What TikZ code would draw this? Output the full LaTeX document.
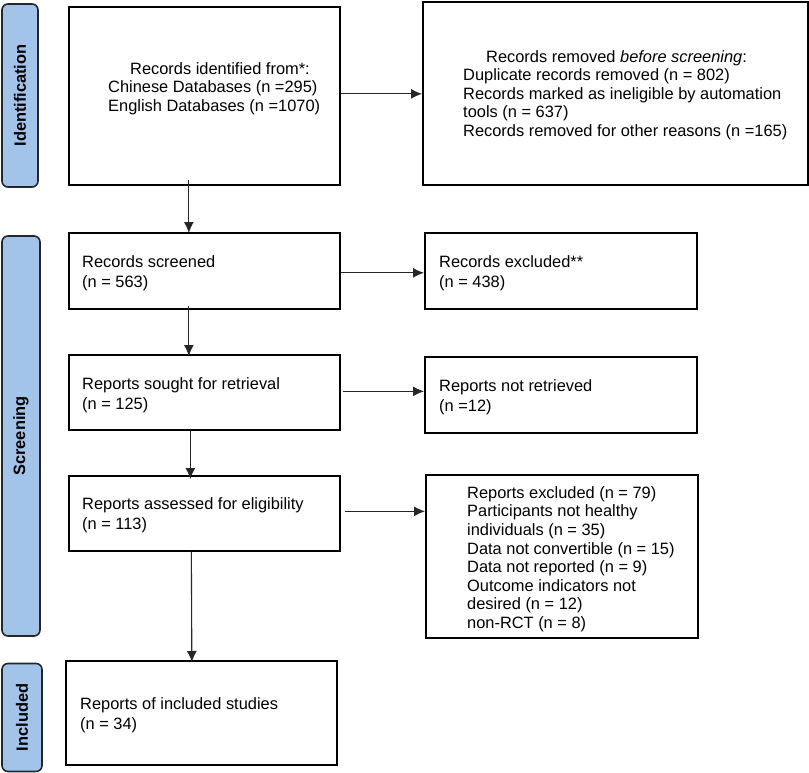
\documentclass[tikz,border=0pt]{standalone}
\usepackage{fontspec}
\setmainfont{Liberation Sans}
\usetikzlibrary{arrows.meta}
\definecolor{stageblue}{RGB}{163,196,234}
\newcommand{\fstrut}{\rule{0pt}{13pt}}
\begin{document}
\begin{tikzpicture}[x=1pt,y=-1pt,
  box/.style={draw=black, line width=1.7pt, anchor=north west, inner sep=0pt},
  stage/.style={draw=black!85, line width=1.6pt, fill=stageblue, rounded corners=6pt, rotate=90, inner sep=0pt,
    font=\fontsize{16.4}{18.6}\selectfont\bfseries},
  txt/.style={anchor=north west, inner sep=0pt, align=left, font=\fontsize{16.4}{18.6}\selectfont},
  txtw/.style={anchor=north west, inner sep=0pt, align=left, font=\fontsize{16.4}{20}\selectfont},
  arr/.style={draw=black!85, line width=1.1pt, -{Latex[length=11pt,width=10pt]}}
]
\useasboundingbox (0,0) rectangle (809,773);

% stage labels
\node[stage, minimum width=183pt, minimum height=36pt] (sid) at (20,95.5) {Identification};
\node[stage, minimum width=400pt, minimum height=38pt] (ssc) at (21,436) {Screening};
\node[stage, minimum width=108pt, minimum height=40pt] (sin) at (22,717.5) {Included};

% boxes
\node[box, minimum width=271pt, minimum height=178pt] (b1) at (68,6) {};
\node[box, minimum width=385pt, minimum height=183pt] (b2) at (422,1) {};
\node[box, minimum width=271pt, minimum height=76pt] (scr) at (68,232) {};
\node[box, minimum width=272pt, minimum height=76pt] (exc1) at (424,232) {};
\node[box, minimum width=271pt, minimum height=75pt] (sou) at (68,354) {};
\node[box, minimum width=272pt, minimum height=76pt] (nret) at (424,356) {};
\node[box, minimum width=271pt, minimum height=75pt] (ass) at (68,475) {};
\node[box, minimum width=272pt, minimum height=163pt] (exc2) at (425,474) {};
\node[box, minimum width=271pt, minimum height=104pt] (inc) at (65,660) {};

% texts
\node[txt] (t1) at (108,61) {\hspace*{22pt}\fstrut Records identified from*:\\Chinese Databases (n =295)\\English Databases (n =1070)};
\node[txt] (t2) at (463,49) {\hspace*{23pt}\fstrut Records removed \textit{before screening}:\\Duplicate records removed (n = 802)\\Records marked as ineligible by automation\\tools (n = 637)\\Records removed for other reasons (n =165)};
\node[txtw] (tscr) at (82,254) {\fstrut Records screened\\(n = 563)};
\node[txtw] (texc1) at (439,254) {\fstrut Records excluded**\\(n = 438)};
\node[txtw] (tsou) at (82,376) {\fstrut Reports sought for retrieval\\(n = 125)};
\node[txtw] (tnret) at (439,378) {\fstrut Reports not retrieved\\(n =12)};
\node[txtw] (tass) at (82,496) {\fstrut Reports assessed for eligibility\\(n = 113)};
\node[txt] (texc2) at (467,485) {\fstrut Reports excluded (n = 79)\\Participants not healthy\\individuals (n = 35)\\Data not convertible (n = 15)\\Data not reported (n = 9)\\Outcome indicators not\\desired (n = 12)\\non-RCT (n = 8)};
\node[txtw] (tinc) at (80,696) {\fstrut Reports of included studies\\(n = 34)};

% connectors
\draw[arr] ([yshift=2pt]b1.east) -- ([yshift=2pt]b1.east -| b2.west);
\draw[arr] ([xshift=-15.5pt,yshift=6pt]b1.south) -- ([xshift=-15.5pt,yshift=-1pt]scr.north);
\draw[arr] ([yshift=-2pt]scr.east) -- ([yshift=-2pt]scr.east -| exc1.west);
\draw[arr] ([xshift=-15.5pt,yshift=4pt]scr.south) -- ([xshift=-15.5pt,yshift=-2pt]sou.north);
\draw[arr] ([xshift=2pt,yshift=1pt]sou.east) -- ([yshift=1pt]sou.east -| nret.west);
\draw[arr] ([xshift=-14pt]sou.south) -- ([xshift=-14pt,yshift=-4pt]ass.north);
\draw[arr] ([xshift=4pt,yshift=2pt]ass.east) -- ([yshift=2pt]ass.east -| exc2.west);
\draw[arr] ([xshift=-13pt]ass.south) -- ([xshift=-9.5pt,yshift=-2pt]inc.north);
\end{tikzpicture}
\end{document}
